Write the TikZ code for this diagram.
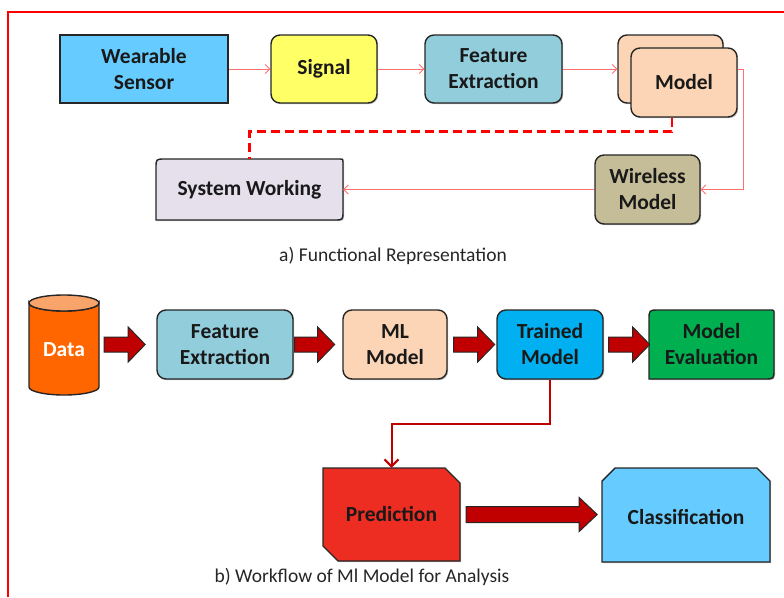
\documentclass[tikz,border=0pt]{standalone}
\usepackage{fontspec}
\setmainfont{Carlito}
\usetikzlibrary{arrows.meta,backgrounds,calc,shadows}
\definecolor{skyb}{HTML}{66CCFF}
\definecolor{yel}{HTML}{FFFF66}
\definecolor{feb}{HTML}{92CDDC}
\definecolor{peach}{HTML}{FBD5B5}
\definecolor{khaki}{HTML}{C4BD97}
\definecolor{lav}{HTML}{E5E0EC}
\definecolor{orng}{HTML}{FF6600}
\definecolor{orngtop}{HTML}{F9A46A}
\definecolor{tblue}{HTML}{00B0F0}
\definecolor{tgreen}{HTML}{00B050}
\definecolor{pred}{HTML}{EE2D22}
\definecolor{dred}{HTML}{C00000}
\definecolor{pink}{HTML}{FF7070}
\definecolor{frame}{HTML}{FF0000}
\tikzset{
  boxline/.style={draw=black!85, line width=1.4pt},
  shad/.style={drop shadow={shadow xshift=1.2pt,shadow yshift=-1.2pt,fill=black,opacity=.25}},
  lbl/.style={font=\fontsize{21.5}{26}\selectfont\bfseries, align=center, text=black!90},
  box/.style={boxline, shad, lbl, rectangle, inner sep=0pt},
  rbox/.style={box, rounded corners=9pt},
  ghost/.style={lbl, inner sep=0pt},
  thinarrow/.style={draw=pink, line width=0.8pt, -{Straight Barb[length=4.5pt,width=9pt]}},
  bigar/.style={draw=black!85, line width=1pt, fill=dred, line join=miter},
  caption/.style={font=\fontsize{19.5}{23}\selectfont, text=black!85}
}
% #1 start coordinate (middle of tail), #2 total length, #3 half shaft, #4 half head, #5 head length
\newcommand\fatarrow[5]{%
  \filldraw[bigar] #1 ++(0,-#3) -- ++(#2-#5,0) -- ++(0,#3-#4) -- ++(#5,#4) -- ++(-#5,#4)
     -- ++(0,#3-#4) -- ++(-#2+#5,0) -- cycle;}
\begin{document}
\begin{tikzpicture}[x=1pt,y=-1pt]
\useasboundingbox (0,0) rectangle (784,597);
% frame
\draw[frame, line width=1.2pt] (8,597) -- (8,12) -- (784,12);

% ---- part a
\node[box, fill=skyb, minimum width=168pt, minimum height=68pt] (ws) at (144,69) {Wearable\\Sensor};
\node[rbox, fill=yel, minimum width=106pt, minimum height=68pt] (sig) at (324,69) {Signal};
\node[rbox, fill=feb, minimum width=137pt, minimum height=68pt] (fe1) at (493.5,69) {Feature\\Extraction};
\node[rbox, fill=peach, minimum width=105pt, minimum height=68pt] (mb) at (670.5,69) {};
\node[rbox, fill=peach, minimum width=106pt, minimum height=69pt] (model) at (684,82.5) {Model};
\node[rbox, fill=khaki, minimum width=105pt, minimum height=69pt] (wl) at (647.5,189.5) {Wireless\\Model};
\node[ghost, minimum width=187pt, minimum height=61pt] (sw) at (249.5,189.5) {System Working};
\begin{scope}[on background layer]
\filldraw[boxline, shad, fill=lav] (156,220) -- (156,168) .. controls (156,159) .. (165,159) -- (340,159)
  .. controls (343,159) .. (343,162) -- (343,211) .. controls (343,220) .. (334,220) -- cycle;
\end{scope}

\draw[thinarrow] (ws.east) -- (sig.west);
\draw[thinarrow] (sig.east) -- (fe1.west);
\draw[thinarrow] (fe1.east) -- (mb.west);
\draw[thinarrow] (model.east |- mb.east) -- ++(6,0) |- (wl.east);
\draw[thinarrow] (wl.west) -- (sw.east);
\draw[frame, line width=2.6pt, dash pattern=on 9pt off 5pt] ([xshift=-12pt]model.south) -- ++(0,14) -| (sw.north);

\node[caption] (capa) at (393,256) {a) Functional Representation};

% ---- part b
\node[ghost, minimum width=70pt, minimum height=100pt] (data) at (64,345) {};
\begin{scope}[on background layer]
\filldraw[boxline, fill=orng] (29,303) -- (29,387) arc[start angle=180, end angle=0, x radius=35, y radius=8]
   -- (99,303) arc[start angle=0, end angle=180, x radius=35, y radius=8] -- cycle;
\filldraw[boxline, fill=orngtop] (64,303) ellipse [x radius=35, y radius=8];
\end{scope}
\node[lbl, text=white] (datat) at (64,350) {Data};

\node[rbox, fill=feb, minimum width=136pt, minimum height=69pt] (fe2) at (225,344.5) {Feature\\Extraction};
\node[rbox, fill=peach, minimum width=104pt, minimum height=69pt] (ml) at (395,344.5) {ML\\Model};
\node[rbox, fill=tblue, minimum width=106pt, minimum height=69pt] (tm) at (550,344.5) {Trained\\Model};
\node[ghost, minimum width=125pt, minimum height=69pt] (ev) at (711.5,344.5) {Model\\Evaluation};
\begin{scope}[on background layer]
\filldraw[boxline, shad, fill=tgreen] (649,379) -- (649,320) .. controls (649,310) .. (659,310) -- (770,310)
  .. controls (774,310) .. (774,314) -- (774,369) .. controls (774,379) .. (764,379) -- cycle;
\end{scope}

\fatarrow{([xshift=5pt]data.east |- fe2.west)}{41}{7.5}{17.5}{17}
\fatarrow{([xshift=1pt]fe2.east)}{40}{7.5}{17.5}{17}
\fatarrow{([xshift=6pt]ml.east)}{41}{7.5}{17.5}{17}
\fatarrow{([xshift=5pt]tm.east)}{41}{7.5}{17.5}{17}

\node[ghost, minimum width=137pt, minimum height=93pt] (pr) at (391.5,514.5) {Prediction};
\node[ghost, minimum width=168pt, minimum height=94pt] (cls) at (686,517) {Classification};
\begin{scope}[on background layer]
\filldraw[boxline, shad, fill=pred] (323,468) -- (445,468) -- (460,483) -- (460,561) -- (338,561) -- (323,546) -- cycle;
\filldraw[boxline, shad, fill=skyb] (602,481) -- (615,468) -- (757,468) -- (770,481) -- (770,562) -- (602,562) -- cycle;
\end{scope}
\fatarrow{([xshift=6pt]pr.east)}{131}{8}{17}{18}

\draw[dred, line width=2pt, -{Straight Barb[length=7pt,width=14pt,line width=2pt]}] (tm.south) -- ++(0,44) -| (pr.north);

\node[caption] (capb) at (362,577) {b) Workflow of Ml Model for Analysis};
\end{tikzpicture}
\end{document}
